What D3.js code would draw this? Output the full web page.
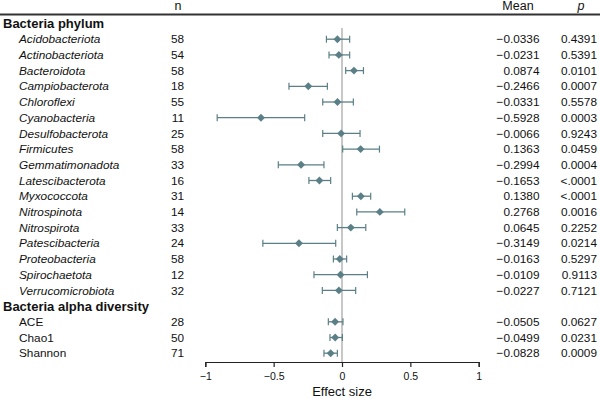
<!DOCTYPE html>
<html>
<head>
<meta charset="utf-8">
<script src="https://cdn.jsdelivr.net/npm/d3@7"></script>
<style>
  body { margin: 0; background: #fff; }
  text { font-family: "Liberation Sans", Arial, sans-serif; fill: #111; }
</style>
</head>
<body>
<div id="chart"></div>
<script>
// groups and rows
var phylumLabels = ["Acidobacteriota", "Actinobacteriota", "Bacteroidota", "Campiobacterota", "Chloroflexi",
	"Cyanobacteria", "Desulfobacterota", "Firmicutes", "Gemmatimonadota", "Latescibacterota", "Myxococcota",
	"Nitrospinota", "Nitrospirota", "Patescibacteria", "Proteobacteria", "Spirochaetota", "Verrucomicrobiota"],
	phylumN = [58, 54, 58, 18, 55, 11, 25, 58, 33, 16, 31, 14, 33, 24, 58, 12, 32],
	phylumMean = [-0.0336, -0.0231, 0.0874, -0.2466, -0.0331, -0.5928, -0.0066, 0.1363, -0.2994, -0.1653, 0.1380,
		0.2768, 0.0645, -0.3149, -0.0163, -0.0109, -0.0227],
	phylumLow = [-0.114, -0.095, 0.027, -0.388, -0.141, -0.913, -0.141, 0.005, -0.466, -0.242, 0.076,
		0.108, -0.034, -0.579, -0.063, -0.205, -0.144],
	phylumHigh = [0.056, 0.056, 0.157, -0.107, 0.083, -0.273, 0.132, 0.274, -0.132, -0.083, 0.210,
		0.459, 0.174, -0.046, 0.034, 0.186, 0.100],
	phylumP = ["0.4391", "0.5391", "0.0101", "0.0007", "0.5578", "0.0003", "0.9243", "0.0459", "0.0004", "<.0001",
		"<.0001", "0.0016", "0.2252", "0.0214", "0.5297", "0.9113", "0.7121"];

var alphaLabels = ["ACE", "Chao1", "Shannon"],
	alphaN = [28, 50, 71],
	alphaMean = [-0.0505, -0.0499, -0.0828],
	alphaLow = [-0.100, -0.088, -0.132],
	alphaHigh = [0.007, 0.003, -0.034],
	alphaP = ["0.0627", "0.0231", "0.0009"];

var xTicks = [-1, -0.5, 0, 0.5, 1];

var w = 600,
	h = 398,
	rowTop = 23.5,
	rowStep = 15.7,
	fontSize = "11.8px",
	markColor = "#5b7f86";

// flatten into one list of rows
var rows = [];
var addGroup = function(title, labels, ns, means, lows, highs, ps, italic) {
	rows.push({ header: true, label: title });
	for (var i = 0; i < labels.length; i++) {
		rows.push({ label: labels[i], n: ns[i], mean: means[i], low: lows[i], high: highs[i], p: ps[i], italic: italic });
	}
};
addGroup("Bacteria phylum", phylumLabels, phylumN, phylumMean, phylumLow, phylumHigh, phylumP, true);
addGroup("Bacteria alpha diversity", alphaLabels, alphaN, alphaMean, alphaLow, alphaHigh, alphaP, false);

var svg = d3.select("#chart").append("svg")
	.attr("width", w)
	.attr("height", h);

var x = d3.scaleLinear().domain([-1, 1]).range([205.3, 478.7]);
var y = function(i) { return rowTop + rowStep * i; };
var fmt = d3.format(".4f");

// column headers
svg.append("text").attr("x", 178).attr("y", 10).attr("text-anchor", "middle")
	.style("font-size", "12.5px").text("n");
svg.append("text").attr("x", 518).attr("y", 10).attr("text-anchor", "middle")
	.style("font-size", "12.5px").text("Mean");
svg.append("text").attr("x", 581).attr("y", 10).attr("text-anchor", "middle")
	.style("font-size", "12.5px").style("font-style", "italic").text("p");
svg.append("line")
	.attr("x1", 0).attr("x2", w).attr("y1", 14.5).attr("y2", 14.5)
	.attr("stroke", "#333").attr("stroke-width", 2);

// zero line
svg.append("line")
	.attr("x1", x(0)).attr("x2", x(0))
	.attr("y1", 28).attr("y2", 362)
	.attr("stroke", "#b5b5b5").attr("stroke-width", 1.5);

var g = svg.selectAll("g.row")
	.data(rows)
	.enter().append("g")
	.attr("class", "row")
	.attr("transform", function(d, i) { return "translate(0," + y(i) + ")"; });

g.append("text")
	.attr("x", function(d) { return d.header ? 3 : 19; })
	.attr("dy", "0.35em")
	.style("font-size", function(d) { return d.header ? "13px" : fontSize; })
	.style("font-weight", function(d) { return d.header ? "bold" : "normal"; })
	.style("font-style", function(d) { return d.italic ? "italic" : "normal"; })
	.text(function(d) { return d.label; });

var items = g.filter(function(d) { return !d.header; });

items.append("text")
	.attr("x", 184).attr("dy", "0.35em").attr("text-anchor", "end")
	.style("font-size", fontSize)
	.text(function(d) { return d.n; });

items.append("text")
	.attr("x", 539.5).attr("dy", "0.35em").attr("text-anchor", "end")
	.style("font-size", fontSize)
	.text(function(d) { return fmt(d.mean); });

items.append("text")
	.attr("x", 597).attr("dy", "0.35em").attr("text-anchor", "end")
	.style("font-size", fontSize)
	.text(function(d) { return d.p; });

// error bars
items.append("line")
	.attr("x1", function(d) { return x(d.low); })
	.attr("x2", function(d) { return x(d.high); })
	.attr("stroke", markColor).attr("stroke-width", 1.3);
items.append("line")
	.attr("x1", function(d) { return x(d.low); })
	.attr("x2", function(d) { return x(d.low); })
	.attr("y1", -3.5).attr("y2", 3.5)
	.attr("stroke", markColor).attr("stroke-width", 1.2);
items.append("line")
	.attr("x1", function(d) { return x(d.high); })
	.attr("x2", function(d) { return x(d.high); })
	.attr("y1", -3.5).attr("y2", 3.5)
	.attr("stroke", markColor).attr("stroke-width", 1.2);
items.append("path")
	.attr("d", d3.symbol().type(d3.symbolDiamond2).size(40))
	.attr("transform", function(d) { return "translate(" + x(d.mean) + ",0)"; })
	.attr("fill", markColor);

// x axis
var axis = svg.append("g")
	.attr("transform", "translate(0,362)")
	.call(d3.axisBottom(x).tickValues(xTicks).tickSize(5).tickPadding(6)
		.tickFormat(d3.format("")));
axis.select(".domain").attr("stroke", "#222").attr("stroke-width", 1.2);
axis.selectAll(".tick line").attr("stroke", "#222").attr("stroke-width", 1.2);
axis.selectAll(".tick text")
	.attr("fill", "#111")
	.style("font-size", "10.5px")
	.style("font-family", "'Liberation Sans', Arial, sans-serif");

svg.append("text")
	.attr("x", x(0)).attr("y", 396)
	.attr("text-anchor", "middle")
	.style("font-size", "13px")
	.text("Effect size");
</script>
</body>
</html>
